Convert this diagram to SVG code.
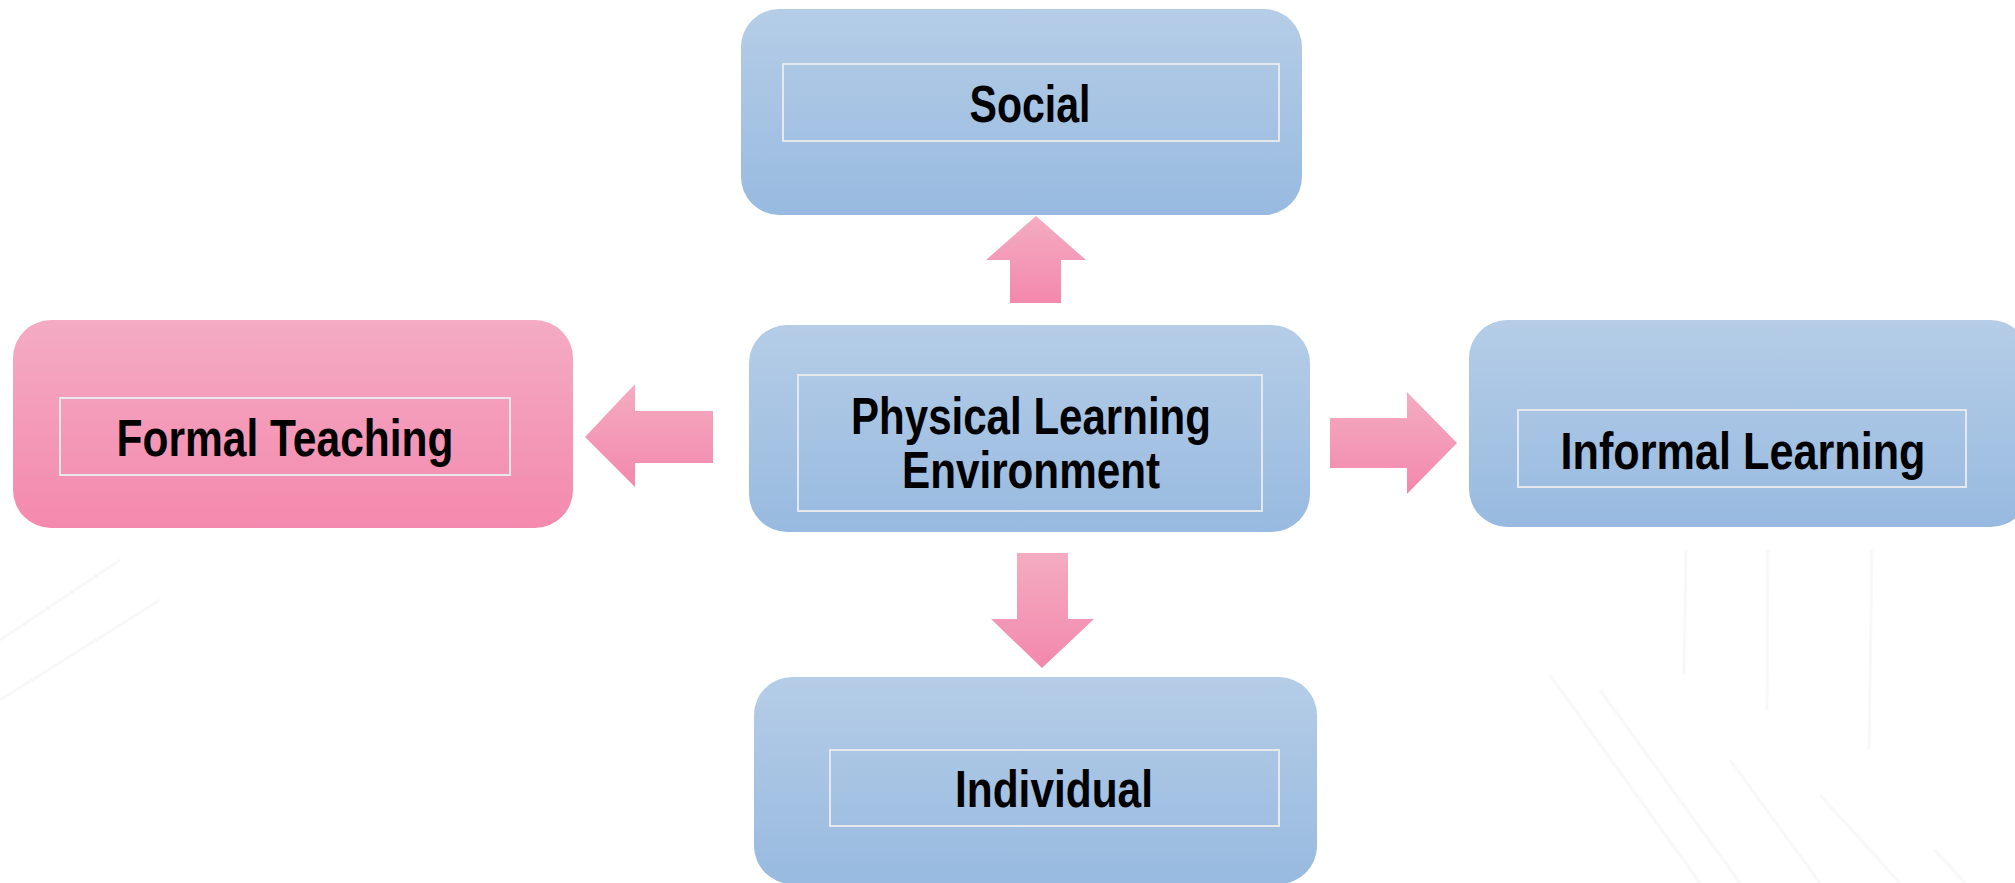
<svg xmlns="http://www.w3.org/2000/svg" width="2015" height="883" viewBox="0 0 2015 883">
<defs>
<linearGradient id="gBlue" x1="0" y1="0" x2="0" y2="1"><stop offset="0" stop-color="#b5cde7"/><stop offset="1" stop-color="#98bae0"/></linearGradient>
<linearGradient id="gPink" x1="0" y1="0" x2="0" y2="1"><stop offset="0" stop-color="#f4abc3"/><stop offset="1" stop-color="#f489ae"/></linearGradient>
<linearGradient id="gArrow" x1="0" y1="0" x2="0" y2="1"><stop offset="0" stop-color="#f4acc2"/><stop offset="1" stop-color="#f388ad"/></linearGradient>
</defs>
<style>
.blue{fill:url(#gBlue);}
.pink{fill:url(#gPink);}
.inner{fill:none;stroke:#e6e8ec;stroke-width:2;}
.lbl{font-family:"Liberation Sans",Arial,sans-serif;font-weight:bold;font-size:52px;fill:#000;text-anchor:middle;}
.arr{fill:url(#gArrow);}
.bg{stroke:#f8f8f8;stroke-width:3;fill:none;}
</style>
<rect width="2015" height="883" fill="#ffffff"/>
<g id="background">
<line class="bg" x1="1686" y1="550" x2="1684" y2="675"/>
<line class="bg" x1="1768" y1="550" x2="1767" y2="710"/>
<line class="bg" x1="1872" y1="550" x2="1869" y2="750"/>
<line class="bg" x1="1550" y1="675" x2="1700" y2="883"/>
<line class="bg" x1="1600" y1="690" x2="1740" y2="883"/>
<line class="bg" x1="1730" y1="760" x2="1820" y2="883"/>
<line class="bg" x1="1820" y1="795" x2="1900" y2="883" stroke="#e8e8e8"/>
<line class="bg" x1="1935" y1="850" x2="1965" y2="883" stroke="#dadada"/>
<line class="bg" x1="0" y1="640" x2="120" y2="560"/>
<line class="bg" x1="0" y1="700" x2="160" y2="600"/>
</g>
<g id="node-social">
<rect class="blue" x="741" y="9" width="561" height="206" rx="38"/>
<rect class="inner" x="783" y="64" width="496" height="77"/>
<text class="lbl" x="1030" y="122" textLength="121" lengthAdjust="spacingAndGlyphs">Social</text>
</g>
<g id="node-formal">
<rect class="pink" x="13" y="320" width="560" height="208" rx="38"/>
<rect class="inner" x="60" y="398" width="450" height="77"/>
<text class="lbl" x="285" y="456" textLength="337" lengthAdjust="spacingAndGlyphs">Formal Teaching</text>
</g>
<g id="node-physical">
<rect class="blue" x="749" y="325" width="561" height="207" rx="38"/>
<rect class="inner" x="798" y="375" width="464" height="136"/>
<text class="lbl" x="1031" y="434" textLength="360" lengthAdjust="spacingAndGlyphs">Physical Learning</text>
<text class="lbl" x="1031" y="488" textLength="258" lengthAdjust="spacingAndGlyphs">Environment</text>
</g>
<g id="node-informal">
<rect class="blue" x="1469" y="320" width="560" height="207" rx="38"/>
<rect class="inner" x="1518" y="410" width="448" height="77"/>
<text class="lbl" x="1743" y="469" textLength="365" lengthAdjust="spacingAndGlyphs">Informal Learning</text>
</g>
<g id="node-individual">
<rect class="blue" x="754" y="677" width="563" height="207" rx="38"/>
<rect class="inner" x="830" y="750" width="449" height="76"/>
<text class="lbl" x="1054" y="807" textLength="198" lengthAdjust="spacingAndGlyphs">Individual</text>
</g>
<g id="connectors">
<polygon class="arr" points="1036,216 1086,260 1061,260 1061,303 1010,303 1010,260 986,260"/>
<polygon class="arr" points="585,437 635,384 635,411 713,411 713,463 635,463 635,487"/>
<polygon class="arr" points="1457,443 1407,392 1407,418 1330,418 1330,468 1407,468 1407,494"/>
<polygon class="arr" points="1017,553 1068,553 1068,619 1094,619 1042,668 991,619 1017,619"/>
</g>
</svg>
